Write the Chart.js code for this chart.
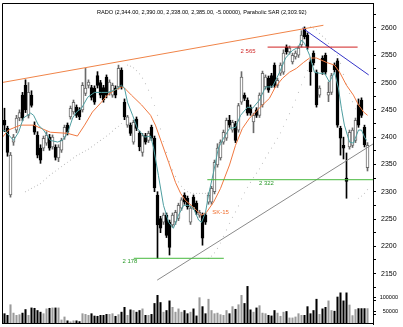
<!DOCTYPE html>
<html><head><meta charset="utf-8">
<script src="https://cdn.jsdelivr.net/npm/chart.js@4.4.1/dist/chart.umd.min.js"></script>
<style>html,body{margin:0;padding:0;background:#fff;overflow:hidden}canvas{display:block}</style>
</head><body>
<canvas id="c" width="403" height="327"></canvas>
<script>
// ---- data ----
const titleText = 'RADO (2,344.00, 2,390.00, 2,338.00, 2,385.00, -5.00000), Parabolic SAR (2,303.92)';
const opens = [2431,2416,2294,2391,2413,2435,2477,2495,2440,2477,
2422,2404,2380,2380,2389,2400,2382,2382,2362,2376,
2400,2422,2437,2446,2455,2450,2450,2480,2495,2491,
2490,2513,2500,2491,2510,2481,2477,2490,2492,2523,
2464,2422,2422,2391,2433,2407,2372,2403,2394,2418,
2398,2294,2251,2244,2257,2244,2239,2244,2251,2270,
2294,2288,2244,2290,2279,2257,2257,2257,2281,2281,
2300,2349,2362,2391,2398,2431,2413,2425,2413,2464,
2477,2468,2455,2428,2450,2440,2459,2492,2508,2513,
2532,2495,2517,2519,2565,2556,2538,2547,2550,2569,
2600,2587,2538,2554,2519,2477,2545,2550,2477,2482,
2532,2540,2416,2385,2325,2382,2385,2394,2459,2468,
2418,2344];
const highs = [2453,2420,2372,2405,2440,2450,2482,2505,2500,2485,
2428,2410,2386,2402,2410,2405,2404,2386,2386,2398,
2422,2426,2457,2468,2459,2454,2500,2526,2505,2495,
2494,2520,2504,2495,2514,2505,2499,2494,2532,2527,
2470,2440,2426,2431,2437,2411,2407,2407,2411,2422,
2402,2300,2255,2261,2261,2248,2261,2266,2279,2289,
2298,2292,2274,2294,2283,2266,2261,2261,2298,2310,
2358,2388,2395,2413,2435,2440,2431,2429,2462,2520,
2481,2472,2459,2444,2454,2481,2521,2514,2512,2517,
2536,2508,2536,2560,2569,2567,2554,2558,2567,2595,
2602,2591,2542,2558,2523,2494,2549,2554,2501,2517,
2536,2544,2420,2400,2371,2413,2417,2435,2470,2472,
2422,2390];
const lows = [2410,2365,2290,2385,2408,2430,2430,2445,2435,2455,
2405,2362,2352,2375,2385,2376,2378,2358,2355,2372,
2396,2404,2433,2442,2436,2432,2446,2476,2490,2468,
2460,2490,2472,2464,2472,2477,2473,2472,2488,2488,
2432,2418,2403,2387,2412,2375,2365,2387,2390,2394,
2300,2178,2225,2240,2216,2184,2235,2240,2247,2266,
2277,2268,2240,2268,2258,2253,2202,2240,2277,2277,
2296,2345,2358,2387,2394,2418,2409,2390,2409,2460,
2467,2440,2440,2408,2436,2436,2455,2488,2482,2491,
2491,2491,2513,2515,2552,2552,2534,2543,2546,2565,
2580,2561,2495,2532,2455,2473,2515,2515,2465,2478,
2519,2418,2367,2360,2288,2378,2381,2390,2418,2436,
2382,2338];
const closes = [2422,2372,2367,2400,2435,2445,2435,2450,2482,2458,
2409,2367,2358,2398,2404,2380,2400,2363,2382,2394,
2418,2409,2453,2464,2440,2437,2495,2490,2501,2473,
2464,2495,2477,2468,2477,2501,2495,2477,2526,2492,
2437,2437,2407,2427,2416,2382,2403,2391,2407,2398,
2307,2239,2233,2257,2220,2198,2257,2262,2275,2285,
2281,2272,2270,2272,2262,2262,2215,2244,2294,2306,
2354,2380,2391,2409,2431,2422,2427,2394,2458,2510,
2471,2444,2444,2440,2440,2477,2517,2510,2486,2495,
2495,2504,2532,2554,2556,2563,2550,2554,2563,2587,
2584,2565,2520,2536,2459,2490,2519,2519,2482,2513,
2523,2422,2398,2380,2319,2409,2413,2431,2422,2440,
2386,2385];
const volumes = [38200,32100,71400,40400,32100,34600,40400,53600,32100,59600,
58200,50000,43900,38200,56100,58200,59600,59600,59600,15000,
26100,11800,8200,11800,11800,9000,38200,35700,32100,38200,
29600,28600,32100,32100,35700,35700,38200,28600,34600,43900,
61800,32100,52500,50000,43900,50000,56100,32100,32100,35700,
76100,106100,79600,43900,50000,85700,61800,43900,56100,43900,
50000,38200,43900,56100,30000,97500,64300,38200,91800,50000,
38200,40400,34600,32100,50000,38200,64300,54600,71400,106100,
76100,139300,52500,43900,59600,67900,40400,38200,32100,30000,
50000,40400,28600,43900,46400,22500,22500,26100,38200,32100,
32100,64300,38200,50000,91800,35700,56100,61800,85700,50000,
47500,100000,115400,85700,115400,70400,31100,53600,57100,57100,
57100,57100];
// Parabolic SAR (null where no dot)
const sarValues = [null,null,null,null,null,null,null,2300,2303,2306,
2309,2312,2315,2320,2325,2330,2334,2338,2342,2346,
2350,2354,2358,2362,2366,2369,2372,2375,2378,2382,
2386,2390,2394,2398,2402,2406,2411,2416,2420,2425,
null,2532,2530,2527,2522,2516,2508,2498,2486,2472,
2458,2440,2415,2392,2372,2355,2340,2328,2318,2310,
2304,2300,2298,2297,2297,2297,2297,2297,2178,2182,
2188,2196,2206,2218,2230,2242,2253,2263,2274,2287,
2298,2308,2317,2326,2334,2342,2352,2362,2371,2380,
2389,2398,2408,2420,2432,2443,2455,2468,2482,2496,
2510,2522,2602,2600,2597,2590,2585,2580,2572,2565,
2558,2550,2535,2515,2497,2480,2465,2452,2288,2292,
2297,2304];
// short moving average (teal), read at points
const maFastX = [-0.6,0.3,3,4.7,6.3,8.7,9.7,11.3,13,15.3,17.7,19.3,21,22.7,24,25.7,27.7,30,32.3,34.3,36.7,39,40,41,42.7,44.3,46.7,48.7,49.7,51.3,53,54.7,56.3,58,59.7,61.3,63,64.7,65.7,67,68,69.7,71.3,73,75,77,78.7,81,82.7,85,87,89.3,91.7,93.7,96,98,99,100,101.7,103.3,105,106.7,108.3,110,111.3,112.3,113.3,115,116.3,118,119,120,120.7];
const maFastY = [2413,2411,2394,2409,2435,2444,2440,2422,2413,2394,2391,2394,2407,2435,2446,2453,2473,2482,2482,2482,2486,2495,2490,2464,2440,2416,2400,2402,2380,2330,2275,2244,2233,2257,2275,2275,2270,2248,2244,2262,2294,2336,2380,2398,2416,2418,2440,2455,2453,2468,2492,2492,2519,2545,2559,2565,2578,2572,2550,2519,2517,2517,2501,2519,2490,2453,2422,2391,2389,2413,2413,2400,2394];
// longer moving average (orange, SK-15)
const maSlowX = [-0.67,1.3,5.3,9.7,15.3,21,24.3,26.7,29.3,32.3,34.3,36.7,39,40,42.3,45.7,48.7,50.3,52.3,54.7,57,58.7,60.3,62.3,64.7,65.7,67.3,69.7,72,75,77,79.3,81.7,83.7,86,88.3,90.3,92.7,95,97.3,99.7,101.7,104,107.3,110,111.7,114,116.3,118,119.7,121];
const maSlowY = [2400,2413,2422,2422,2409,2407,2402,2422,2446,2464,2477,2486,2492,2490,2477,2459,2440,2422,2391,2354,2317,2297,2284,2275,2262,2257,2262,2281,2306,2349,2385,2416,2435,2446,2459,2471,2492,2508,2519,2526,2537,2545,2545,2537,2532,2519,2495,2477,2459,2446,2440];
// drawn lines: [x1, y1, x2, y2] in bar index / price
const upperTrend = [-0.9, 2500, 106.3, 2605];
const resistance2565 = [87.7, 2565, 117.7, 2565];
const downTrend = [99.3, 2600, 121.4, 2514];
const support2322 = [67.6, 2322, 123, 2322];
const support2178 = [43.1, 2178, 73.1, 2178];
const riseTrend = [50.9, 2138, 123, 2388];
const levelTexts = ['2 565', '2 322', '2 178', 'SK-15'];
const levelTextX = [81.2, 87.3, 41.8, 72];
const levelTextY = [2557, 2316, 2172, 2263];
const priceTicks = [2150,2200,2250,2300,2350,2400,2450,2500,2550,2600];
const volumeTicks = [50000,100000];

// ---- chart ----
const up = opens.map((o,i)=>closes[i]>=o);
const seg = (a,color)=>({type:'line',data:[{x:a[0],y:a[1]},{x:a[2],y:a[3]}],borderColor:color,borderWidth:1,pointRadius:0,order:0,yAxisID:'y'});
const FONT = '"Liberation Sans", Arial, sans-serif';

const plug = {
  id:'extras',
  afterDraw(chart){
    const {ctx, chartArea:a, scales} = chart;
    const x = scales.x, y = scales.y, yv = scales.yv;
    ctx.save();
    ctx.strokeStyle = '#000'; ctx.lineWidth = 1;
    ctx.beginPath();
    ctx.moveTo(a.left+0.5, a.bottom-0.5); ctx.lineTo(a.left+0.5, a.top+0.5); ctx.lineTo(a.right, a.top+0.5);
    ctx.moveTo(a.left, a.bottom-0.5); ctx.lineTo(a.right, a.bottom-0.5);
    ctx.stroke();
    ctx.fillStyle = '#000'; ctx.font = '5.6px ' + FONT; ctx.textBaseline = 'middle'; ctx.textAlign = 'left';
    ctx.fillText(titleText, 97, 12);
    const cols = ['#d02828','#2a9a2a','#2a9a2a','#f07030'];
    ctx.font = '6px ' + FONT; ctx.textAlign = 'center';
    levelTexts.forEach((t,i)=>{ ctx.fillStyle = cols[i]; ctx.fillText(t, x.getPixelForValue(levelTextX[i]), y.getPixelForValue(levelTextY[i])); });
    ctx.fillStyle = '#000'; ctx.font = '5.5px ' + FONT; ctx.textAlign = 'right';
    volumeTicks.forEach(v=>{ const py = Math.round(yv.getPixelForValue(v)); ctx.fillText(String(v), 398, py);
      ctx.beginPath(); ctx.moveTo(a.right, py+0.5); ctx.lineTo(a.right+3, py+0.5); ctx.stroke(); });
    ctx.restore();
  }
};

new Chart(document.getElementById('c'), {
  type:'bar',
  data:{datasets:[
    seg(upperTrend,'#f08448'),
    seg(resistance2565,'#d02020'),
    seg(downTrend,'#3434c8'),
    seg(support2322,'#46b83c'),
    seg(support2178,'#46b83c'),
    seg(riseTrend,'#8a8a8a'),
    {type:'line',data:maFastX.map((v,i)=>({x:v,y:maFastY[i]})),borderColor:'#4e9ea0',borderWidth:1,pointRadius:0,order:0,yAxisID:'y'},
    {type:'line',data:maSlowX.map((v,i)=>({x:v,y:maSlowY[i]})),borderColor:'#f07840',borderWidth:1,pointRadius:0,order:0,yAxisID:'y'},
    {type:'line',data:sarValues.map((v,i)=>v==null?null:{x:i,y:v}).filter(Boolean),showLine:false,pointRadius:0.6,pointBackgroundColor:'#c4c4c4',pointBorderWidth:0,order:1,yAxisID:'y'},
    {type:'bar',data:opens.map((o,i)=>({x:i,y:[o,closes[i]]})),backgroundColor:up.map(u=>u?'#ffffff':'#000000'),borderColor:up.map(u=>u?'#6a6a6a':'#000000'),borderWidth:1,borderSkipped:false,barThickness:3,grouped:false,order:2,yAxisID:'y'},
    {type:'bar',data:opens.map((o,i)=>({x:i,y:[lows[i],highs[i]]})),backgroundColor:up.map(u=>u?'#6a6a6a':'#000000'),borderWidth:0,barThickness:1,grouped:false,order:3,yAxisID:'y'},
    {type:'bar',data:volumes.map((v,i)=>({x:i,y:v})),backgroundColor:up.map(u=>u?'#9a9a9a':'#000000'),borderWidth:0,barThickness:1.4,grouped:false,order:4,yAxisID:'yv'}
  ]},
  options:{
    responsive:false, animation:false, devicePixelRatio:1,
    layout:{autoPadding:false,padding:{left:2,top:3,right:0,bottom:3}},
    plugins:{legend:{display:false},tooltip:{enabled:false},title:{display:false}},
    scales:{
      x:{type:'linear',offset:false,grid:{offset:false},min:-0.8333,max:122.8333,display:false},
      y:{position:'right',min:2057.6,max:2645.8,
         afterBuildTicks:s=>{const t=[];for(let v=2075;v<=2625;v+=25)t.push({value:v});s.ticks=t;},
         afterFit:s=>{s.width=30;s.paddingTop=0;s.paddingBottom=0;s.paddingLeft=0;s.paddingRight=0;},
         grid:{drawOnChartArea:false,tickLength:3,color:'#000'},
         border:{color:'#000',width:1},
         ticks:{padding:5,color:'#000',font:{family:FONT,size:7},autoSkip:false,
           callback:v=>priceTicks.includes(v)?String(v):''}},
      yv:{display:false,min:0,max:1188900}
    }
  },
  plugins:[plug]
});
</script>
</body></html>
